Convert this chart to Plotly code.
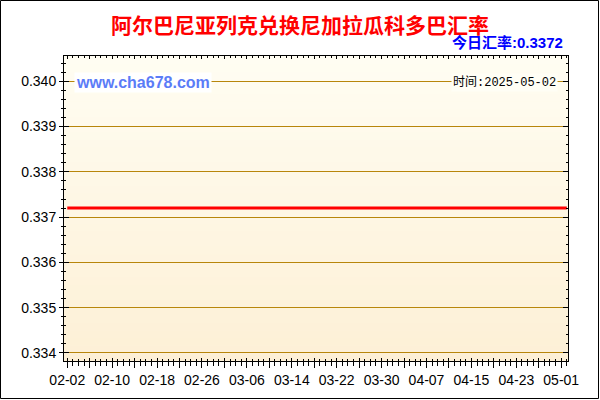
import pandas as pd
import plotly.graph_objects as go

# daily rate, ALL -> NIO (flat over the whole period)
dates = pd.date_range("2025-02-02", "2025-05-02", freq="D")
rates = [
    0.3372, 0.3372, 0.3372, 0.3372, 0.3372, 0.3372, 0.3372, 0.3372, 0.3372, 0.3372,
    0.3372, 0.3372, 0.3372, 0.3372, 0.3372, 0.3372, 0.3372, 0.3372, 0.3372, 0.3372,
    0.3372, 0.3372, 0.3372, 0.3372, 0.3372, 0.3372, 0.3372, 0.3372, 0.3372, 0.3372,
    0.3372, 0.3372, 0.3372, 0.3372, 0.3372, 0.3372, 0.3372, 0.3372, 0.3372, 0.3372,
    0.3372, 0.3372, 0.3372, 0.3372, 0.3372, 0.3372, 0.3372, 0.3372, 0.3372, 0.3372,
    0.3372, 0.3372, 0.3372, 0.3372, 0.3372, 0.3372, 0.3372, 0.3372, 0.3372, 0.3372,
    0.3372, 0.3372, 0.3372, 0.3372, 0.3372, 0.3372, 0.3372, 0.3372, 0.3372, 0.3372,
    0.3372, 0.3372, 0.3372, 0.3372, 0.3372, 0.3372, 0.3372, 0.3372, 0.3372, 0.3372,
    0.3372, 0.3372, 0.3372, 0.3372, 0.3372, 0.3372, 0.3372, 0.3372, 0.3372, 0.3372,
]
x_labels = ["02-02", "02-10", "02-18", "02-26", "03-06", "03-14",
            "03-22", "03-30", "04-07", "04-15", "04-23", "05-01"]
y_ticks = [0.334, 0.335, 0.336, 0.337, 0.338, 0.339, 0.340]

title = "阿尔巴尼亚列克兑换尼加拉瓜科多巴汇率"
today = "今日汇率:0.3372"
stamp = "时间:2025-05-02"
site = "www.cha678.com"

# pixel layout of the 600x400 canvas
L, R, T, B = 64, 568, 56, 361


def px(x):
    return (x - L) / (R - L)


def py(y):
    return (B - y) / (B - T)


# every 4 days a tick, every 8 days a label
tick_dates = pd.date_range("2025-02-02", "2025-05-01", freq="4D")
labelled = {"2025-" + s for s in x_labels}
tick_text = [d.strftime("%m-%d") if d.strftime("%Y-%m-%d") in labelled else ""
             for d in tick_dates]

x_range = ["2025-02-01 10:00", "2025-05-02 05:00"]
y_range = [0.33382, 0.34056]

fig = go.Figure()
fig.add_trace(go.Scatter(x=dates, y=rates, mode="lines",
                         line=dict(color="#FF0000", width=3),
                         hoverinfo="x+y", showlegend=False))
# invisible trace so the outer axes get drawn
fig.add_trace(go.Scatter(x=dates[:1], y=rates[:1], xaxis="x2", yaxis="y2",
                         mode="markers", marker=dict(opacity=0),
                         hoverinfo="skip", showlegend=False))

# cream gradient in the plot area
bands = 40
top_rgb, bot_rgb = (255, 253, 242), (253, 240, 214)
shapes = []
for i in range(bands):
    f = i / (bands - 1)
    c = tuple(round(bot_rgb[k] + (top_rgb[k] - bot_rgb[k]) * f) for k in range(3))
    shapes.append(dict(type="rect", xref="paper", yref="paper", layer="below",
                       x0=0, x1=1, y0=i / bands, y1=(i + 1) / bands + 0.002,
                       line=dict(width=0), fillcolor="rgb(%d,%d,%d)" % c))
shapes.append(dict(type="rect", xref="paper", yref="paper",
                   x0=px(0.5), x1=px(598.5), y0=py(398.5), y1=py(0.5),
                   line=dict(color="#000000", width=1)))

tick_font = dict(family="Liberation Sans, Arial", size=14, color="#000000")
fig.update_layout(
    template="none",
    width=600, height=400,
    margin=dict(l=L, r=600 - R, t=T, b=400 - B, pad=0),
    paper_bgcolor="#FFFFFF", plot_bgcolor="#FEF7E6",
    shapes=shapes,
    xaxis=dict(type="date", range=x_range, showgrid=False, zeroline=False,
               automargin=False,
               showline=True, linecolor="#000000", linewidth=1, mirror="ticks",
               ticks="inside", ticklen=3, tickcolor="#000000",
               tickmode="array", tickvals=tick_dates, showticklabels=False,
               minor=dict(ticks="inside", ticklen=2, dtick=86400000,
                          tick0="2025-02-02", tickcolor="#000000")),
    xaxis2=dict(type="date", range=x_range, overlaying="x", side="bottom",
                anchor="y", showgrid=False, zeroline=False, showline=False,
                automargin=False,
                ticks="outside", ticklen=6, tickcolor="#000000",
                tickmode="array", tickvals=tick_dates, ticktext=tick_text,
                tickfont=tick_font,
                minor=dict(ticks="outside", ticklen=4, dtick=86400000,
                           tick0="2025-02-02", tickcolor="#000000")),
    yaxis=dict(range=y_range, tickmode="array", tickvals=y_ticks,
               showgrid=True, gridcolor="#B8860B", gridwidth=1, zeroline=False,
               automargin=False,
               showline=True, linecolor="#000000", linewidth=1, mirror="ticks",
               ticks="inside", ticklen=5, tickcolor="#000000",
               showticklabels=False,
               minor=dict(ticks="inside", ticklen=2, dtick=0.0002, tick0=0.334,
                          tickcolor="#000000", showgrid=False)),
    yaxis2=dict(range=y_range, overlaying="y", side="left", anchor="x",
                automargin=False,
                tickmode="array", tickvals=y_ticks, tickformat=".3f",
                showgrid=False, zeroline=False, showline=False,
                ticks="outside", ticklen=4, tickcolor="#000000",
                tickfont=tick_font,
                minor=dict(ticks="outside", ticklen=2, dtick=0.0002, tick0=0.334,
                           tickcolor="#000000")),
    annotations=[
        dict(text="<b>%s</b>" % title, xref="paper", yref="paper",
             x=px(300), y=py(24), xanchor="center", yanchor="middle",
             showarrow=False,
             font=dict(family="Noto Sans CJK SC", size=21, color="#FF0000")),
        dict(text="<b>%s</b>" % today, xref="paper", yref="paper",
             x=px(565), y=py(42.5), xanchor="right", yanchor="middle",
             showarrow=False,
             font=dict(family="Liberation Sans, Noto Sans CJK SC", size=15,
                       color="#0000FF")),
        dict(text="<b>%s</b>" % site, xref="paper", yref="paper",
             x=px(74), y=py(82), xanchor="left", yanchor="middle",
             showarrow=False, bgcolor="#FFFFFF", borderpad=1,
             font=dict(family="Liberation Sans, Arial", size=16, color="#5B7CF7")),
        dict(text=stamp, xref="paper", yref="paper",
             x=px(558), y=py(82), xanchor="right", yanchor="middle",
             showarrow=False, bgcolor="#FFFEF5", borderpad=1,
             font=dict(family="Liberation Mono, Noto Sans CJK SC", size=12,
                       color="#000000")),
    ],
)

# drop the browser's default 8px body margin so the chart sits at (0, 0)
fig.write_html("out.html", config={"displayModeBar": False},
               post_script="document.body.style.margin = '0';")
